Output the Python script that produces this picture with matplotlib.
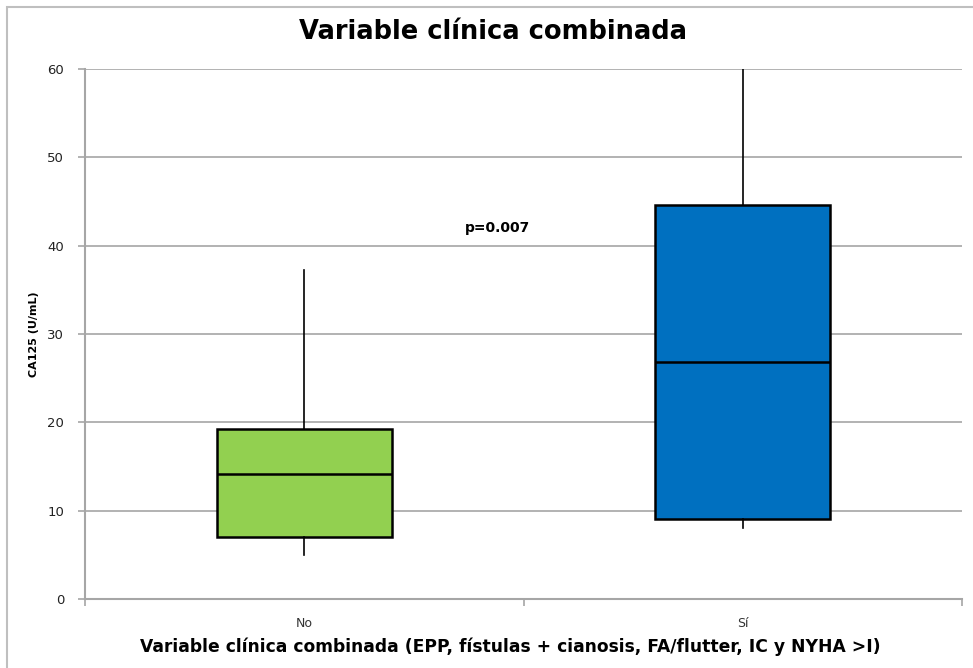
import matplotlib
matplotlib.use('Agg')
import matplotlib.pyplot as plt
from matplotlib.patches import Rectangle

# values
categories = ['No', 'Sí']
whislo = [5.0, 8.0]
q1 = [7.0, 9.1]
med = [14.1, 26.8]
q3 = [19.3, 44.6]
whishi = [37.2, 60.0]
box_colors = ['#92D050', '#0070C0']
p_text = 'p=0.007'

fig = plt.figure(figsize=(9.73, 6.68), dpi=100)
ax = fig.add_axes([0.0874, 0.1033, 0.9013, 0.7934])

stats = []
for i in range(len(categories)):
    stats.append({'label': categories[i], 'whislo': whislo[i], 'q1': q1[i],
                  'med': med[i], 'q3': q3[i], 'whishi': whishi[i], 'fliers': []})

bp = ax.bxp(stats, positions=range(len(categories)), widths=0.4, patch_artist=True,
            showcaps=False, showfliers=False,
            boxprops=dict(edgecolor='black', linewidth=1.8),
            medianprops=dict(color='black', linewidth=1.8),
            whiskerprops=dict(color='black', linewidth=1.2), zorder=3)
for patch, c in zip(bp['boxes'], box_colors):
    patch.set_facecolor(c)

ax.set_ylim(0, 60)
ax.set_xlim(-0.5, len(categories) - 0.5)
ax.set_yticks(range(0, 61, 10))
ax.yaxis.grid(True, color='#A6A6A6', linewidth=1.2)
ax.set_axisbelow(True)

ax.set_xticks(range(len(categories)))
ax.set_xticklabels(categories)
ax.set_xticks([-0.5, 0.5, 1.5], minor=True)
ax.tick_params(axis='x', which='major', length=0, pad=13, labelsize=9, labelcolor='#333333')
ax.tick_params(axis='x', which='minor', length=5, color='#A6A6A6', width=1.2, direction='out')
ax.tick_params(axis='y', length=5, color='#A6A6A6', width=1.2, labelsize=9.5, labelcolor='#222222', pad=10)

for s in ['top', 'right']:
    ax.spines[s].set_visible(False)
for s in ['left', 'bottom']:
    ax.spines[s].set_color('#A6A6A6')
    ax.spines[s].set_linewidth(1.5)

ax.text(0.44, 42, p_text, ha='center', va='center', fontsize=10, fontweight='bold')

fig.text(0.507, 0.952, 'Variable clínica combinada', ha='center', va='center',
         fontsize=18.5, fontweight='bold')
ax.set_xlabel('Variable clínica combinada (EPP, fístulas + cianosis, FA/flutter, IC y NYHA >I)',
              fontsize=12.3, fontweight='bold')
ax.xaxis.set_label_coords(0.485, -0.072)
ax.set_ylabel('CA125 (U/mL)', fontsize=8, fontweight='bold', labelpad=6)

# outer chart border
fig.patches.append(Rectangle((7 / 973, -0.05), 1.2, 1 - 7 / 668 + 0.05, transform=fig.transFigure,
                             fill=False, edgecolor='#BFBFBF', linewidth=1.5))

fig.savefig('out.png', dpi=100)
